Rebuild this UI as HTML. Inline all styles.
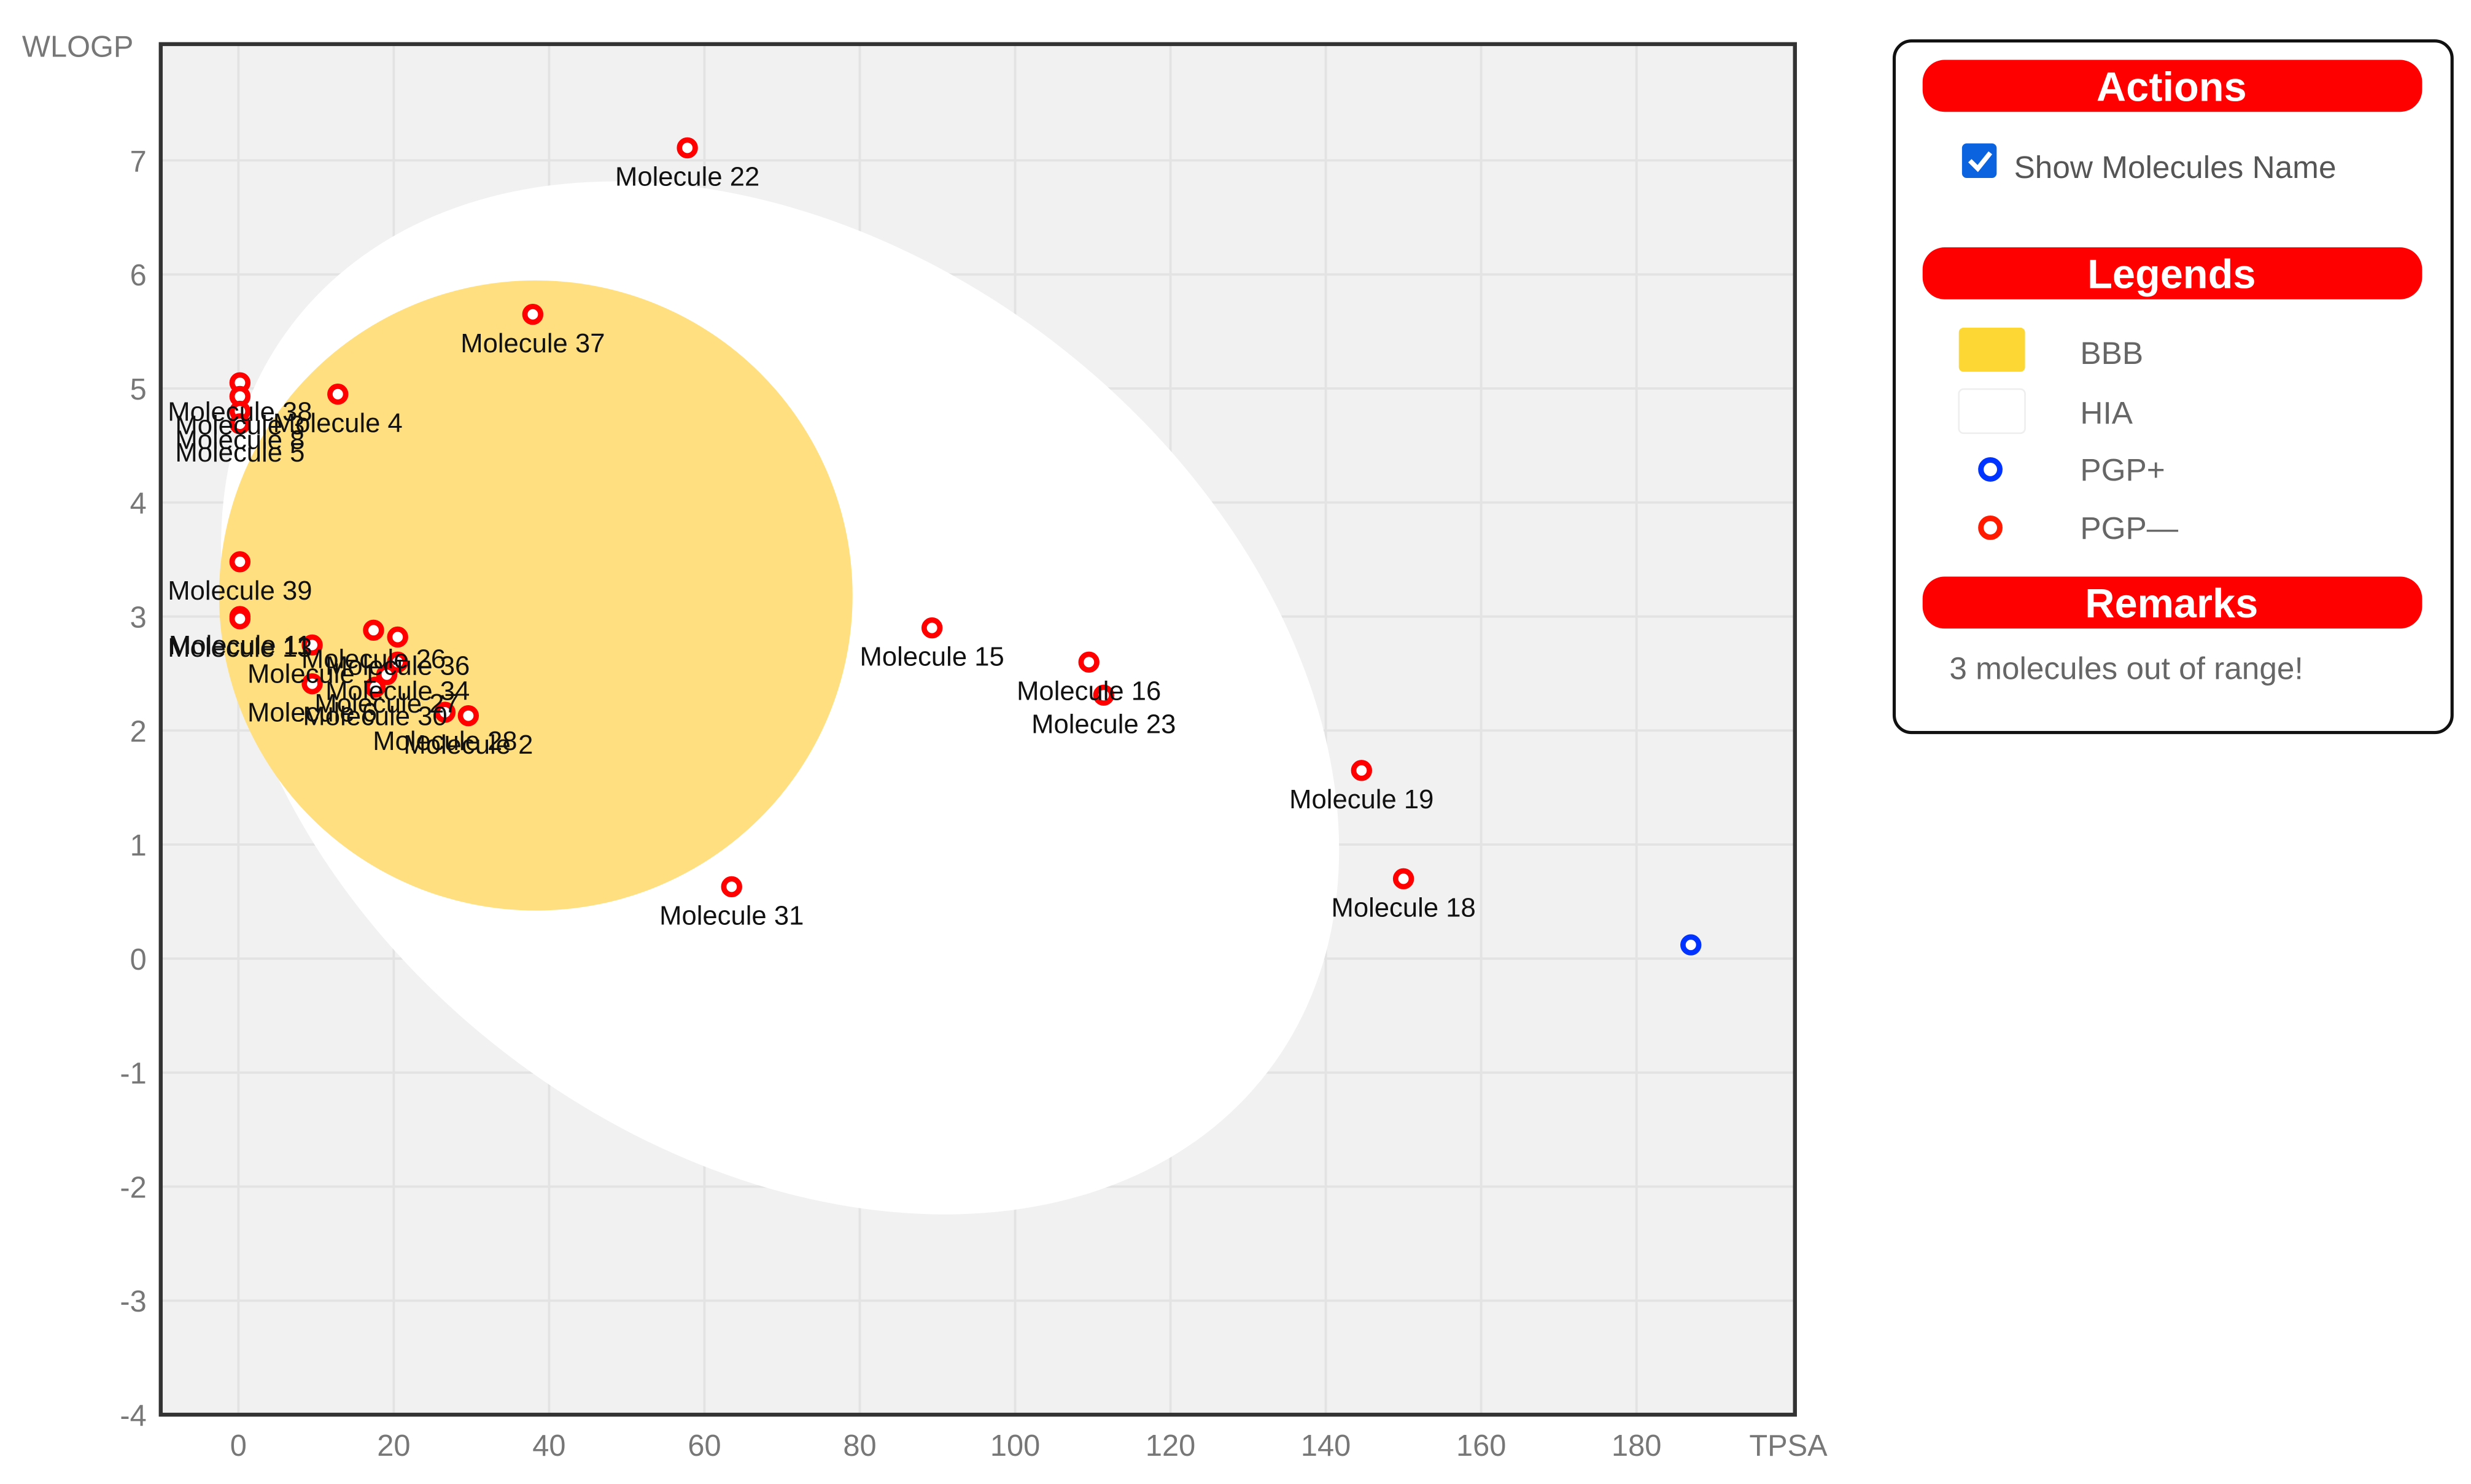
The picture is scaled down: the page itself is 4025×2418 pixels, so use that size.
<!DOCTYPE html>
<html><head><meta charset="utf-8"><style>
html,body{margin:0;padding:0;background:#fff;}
svg{display:block;font-family:"Liberation Sans",Arial,sans-serif;}
</style></head><body>
<svg id="chart" width="4025" height="2418" viewBox="0 0 1568 942" preserveAspectRatio="none" xmlns="http://www.w3.org/2000/svg">
<g id="plot"></g>
<g id="panel">
  <rect x="1202" y="26" width="354" height="439" rx="11" fill="#fff" stroke="#111" stroke-width="2"/>
  <rect x="1220" y="38" width="317" height="33" rx="14" fill="#f00"/>
  <text x="1378" y="64" text-anchor="middle" fill="#fff" font-size="26" font-weight="bold">Actions</text>
  <g>
    <rect x="1245" y="91" width="22" height="22" rx="3" fill="#0b63e0"/>
    <path d="M1250 102 l5 5 l8 -10" stroke="#fff" stroke-width="3" fill="none"/>
  </g>
  <text x="1278" y="113" fill="#555" font-size="20">Show Molecules Name</text>
  <rect x="1220" y="157" width="317" height="33" rx="14" fill="#f00"/>
  <text x="1378" y="183" text-anchor="middle" fill="#fff" font-size="26" font-weight="bold">Legends</text>
  <rect x="1243" y="208" width="42" height="28" rx="3" fill="#fdd835"/>
  <text x="1320" y="231" fill="#666" font-size="20">BBB</text>
  <rect x="1243" y="247" width="42" height="28" rx="3" fill="#fff" stroke="#eee"/>
  <text x="1320" y="269" fill="#666" font-size="20">HIA</text>
  <circle cx="1263" cy="298" r="6" fill="#fff" stroke="#0033ff" stroke-width="3.5"/>
  <text x="1320" y="305" fill="#666" font-size="20">PGP+</text>
  <circle cx="1263" cy="335" r="6" fill="#fff" stroke="#ff1a00" stroke-width="3.5"/>
  <text x="1320" y="342" fill="#666" font-size="20">PGP—</text>
  <rect x="1220" y="366" width="317" height="33" rx="14" fill="#f00"/>
  <text x="1378" y="392" text-anchor="middle" fill="#fff" font-size="26" font-weight="bold">Remarks</text>
  <text x="1237" y="431" fill="#666" font-size="20">3 molecules out of range!</text>
</g>
</svg>
<script>
const xTicks = [0,20,40,60,80,100,120,140,160,180];
const yTicks = [-4,-3,-2,-1,0,1,2,3,4,5,6,7];
const molNames = ["Molecule 22","Molecule 37","Molecule 38","Molecule 3","Molecule 8","Molecule 5","Molecule 4","Molecule 39","Molecule 11","Molecule 13","Molecule 26","Molecule 36","Molecule 34","Molecule 27","Molecule 1","Molecule 30","Molecule 6","Molecule 28","Molecule 2","Molecule 15","Molecule 16","Molecule 23","Molecule 19","Molecule 18","Molecule 31",""];
const tpsa = [57.8,37.9,0.2,0.2,0.2,0.2,12.8,0.2,0.2,0.2,17.4,20.5,20.5,19.1,9.5,17.6,9.5,26.6,29.6,89.3,109.5,111.4,144.6,150,63.5,187];
const wlogp = [7.11,5.65,5.05,4.93,4.8,4.69,4.95,3.48,3.0,2.98,2.88,2.82,2.6,2.49,2.75,2.38,2.41,2.16,2.13,2.9,2.6,2.31,1.65,0.7,0.63,0.12];
const pgp = [0,0,0,0,0,0,0,0,0,0,0,0,0,0,0,0,0,0,0,0,0,0,0,0,0,1];

const NS="http://www.w3.org/2000/svg";
const L=102,R=1139,T=28,B=898;
const xMin=-10,xMax=200.4,yMin=-4,yMax=8.02;
function sx(v){return L+(v-xMin)/(xMax-xMin)*(R-L);}
function sy(v){return B-(v-yMin)/(yMax-yMin)*(B-T);}
const plot=document.getElementById('plot');
function mk(tag,attrs,parent){const e=document.createElementNS(NS,tag);for(const k in attrs)e.setAttribute(k,attrs[k]);(parent||plot).appendChild(e);return e;}

const bg=mk('rect',{x:L,y:T,width:R-L,height:B-T,fill:'#f1f1f1'});


yTicks.forEach(t=>{
  const g=mk('line',{x1:L,x2:R,y1:sy(t),y2:sy(t),stroke:'#e3e3e3','stroke-width':1.5});
  
  
  const tx=mk('text',{x:93,y:sy(t)+7,'text-anchor':'end',fill:'#777','font-size':19});
  tx.textContent=t;
  
  
});
xTicks.forEach(t=>{
  const g=mk('line',{x1:sx(t),x2:sx(t),y1:T,y2:B,stroke:'#e3e3e3','stroke-width':1.5});
  
  
  const tx=mk('text',{x:sx(t),y:924,'text-anchor':'middle',fill:'#777','font-size':19});
  tx.textContent=t;
  
  
});
const white=mk('ellipse',{cx:495,cy:443,rx:390,ry:285,fill:'#fff',transform:'rotate(37.5 495 443)'});


const yolk=mk('ellipse',{cx:340,cy:378,rx:201,ry:200,fill:'#ffdf80'});


const border=mk('rect',{x:L,y:T,width:R-L,height:B-T,fill:'none',stroke:'#333','stroke-width':2.5});


const yt=mk('text',{x:14,y:36,fill:'#777','font-size':19});
yt.textContent='WLOGP';


const xt=mk('text',{x:1110,y:924,fill:'#777','font-size':19});
xt.textContent='TPSA';



tpsa.forEach((v,i)=>{
  const c=mk('circle',{cx:sx(v),cy:sy(wlogp[i]),r:5,fill:'#fff',stroke:pgp[i]?'#0033ff':'#ff0000','stroke-width':3.4});
  
  
});
tpsa.forEach((v,i)=>{
  if(!molNames[i])return;
  const t=mk('text',{x:sx(v),y:sy(wlogp[i])+24,'text-anchor':'middle',fill:'#111','font-size':17});
  t.textContent=molNames[i];
  
  
});
</script>
</body></html>
